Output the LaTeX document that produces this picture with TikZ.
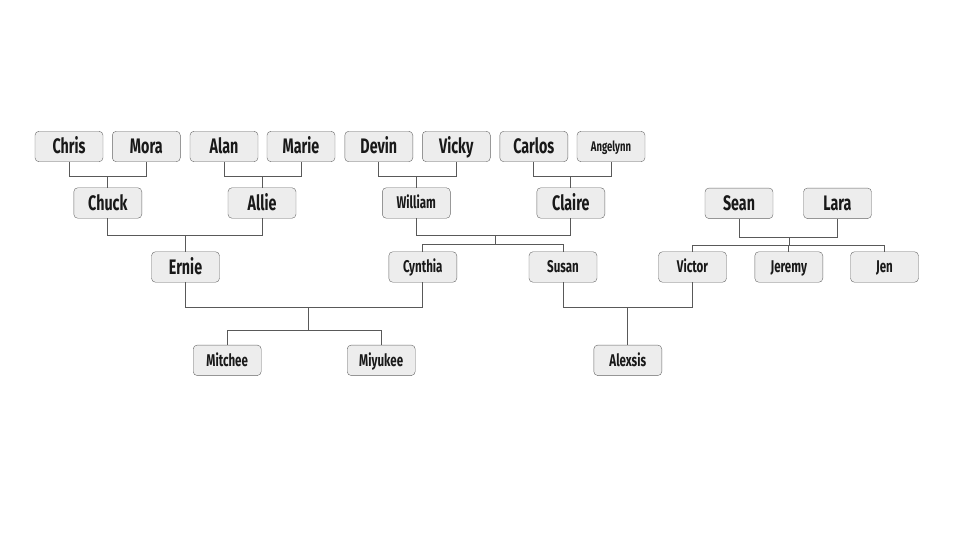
\documentclass[tikz,border=0pt]{standalone}
\usepackage{fontspec}
\setmainfont{Fira Sans}[FakeStretch=0.68]
\begin{document}
\begin{tikzpicture}[x=1pt,y=-1pt,
  person/.style={draw=black!60, fill=black!7, rounded corners=4pt,
    minimum width=68pt, minimum height=30.5pt, inner sep=0pt, text=black!90,
    text height=14.5pt, text depth=0pt,
    font=\bfseries\fontsize{21}{21}\selectfont},
  smallname/.style={font=\bfseries\fontsize{17}{17}\selectfont, text height=11.7pt},
  tinyname/.style={font=\bfseries\fontsize{14}{14}\selectfont, text height=9.6pt},
  link/.style={draw=black!65, line width=0.9pt}]
\useasboundingbox (0,0) rectangle (954,539);
% generation 0
\node[person] (chris) at (69,146.5) {Chris};
\node[person] (mora) at (146.3,146.5) {Mora};
\node[person] (alan) at (224,146.5) {Alan};
\node[person] (marie) at (301,146.5) {Marie};
\node[person] (devin) at (378.8,146.5) {Devin};
\node[person] (vicky) at (456.3,146.5) {Vicky};
\node[person] (carlos) at (533.8,146.5) {Carlos};
\node[person,tinyname] (angelynn) at (611,146.5) {Angelynn};
% generation 1
\node[person] (chuck) at (107.8,203) {Chuck};
\node[person] (allie) at (262,203) {Allie};
\node[person,smallname] (william) at (416.3,203) {William};
\node[person] (claire) at (570.8,203) {Claire};
\node[person] (sean) at (739,203.3) {Sean};
\node[person] (lara) at (837.5,203.3) {Lara};
% generation 2
\node[person] (ernie) at (185.5,267) {Ernie};
\node[person,smallname] (cynthia) at (422.8,267) {Cynthia};
\node[person,smallname] (susan) at (563,267) {Susan};
\node[person,smallname] (victor) at (692.5,267) {Victor};
\node[person,smallname] (jeremy) at (788.8,267) {Jeremy};
\node[person,smallname] (jen) at (884.5,267) {Jen};
% generation 3
\node[person,smallname] (mitchee) at (227.2,360.3) {Mitchee};
\node[person,smallname] (miyukee) at (381.2,360.3) {Miyukee};
\node[person,smallname] (alexsis) at (627.8,360.3) {Alexsis};
% junction levels
\coordinate (g1) at (0,176.7);
\coordinate (g2) at (0,235);
\coordinate (g2b) at (0,244.3);
\coordinate (g2s) at (0,237.3);
\coordinate (g2sb) at (0,245);
\coordinate (g3) at (0,307.7);
\coordinate (g3b) at (0,330.7);
\coordinate (x495) at (495.7,0);
\coordinate (x789) at (789,0);
\coordinate (x308) at (308.3,0);
% couples -> children (gen 0 -> gen 1)
\draw[link] (chris.south) |- (g1 -| mora.south) -- (mora.south);
\draw[link] (chuck.north) -- (chuck.north |- g1);
\draw[link] (alan.south) |- (g1 -| marie.south) -- (marie.south);
\draw[link] (allie.north) -- (allie.north |- g1);
\draw[link] (devin.south) |- (g1 -| vicky.south) -- (vicky.south);
\draw[link] (william.north) -- (william.north |- g1);
\draw[link] (carlos.south) |- (g1 -| angelynn.south) -- (angelynn.south);
\draw[link] (claire.north) -- (claire.north |- g1);
% gen 1 -> gen 2
\draw[link] (chuck.south) |- (g2 -| allie.south) -- (allie.south);
\draw[link] (ernie.north) -- (ernie.north |- g2);
\draw[link] (william.south) |- (g2 -| claire.south) -- (claire.south);
\draw[link] (x495 |- g2) -- (x495 |- g2b);
\draw[link] (cynthia.north) |- (g2b -| susan.north) -- (susan.north);
\draw[link] (sean.south) |- (g2s -| lara.south) -- (lara.south);
\draw[link] (x789 |- g2s) -- (x789 |- g2sb);
\draw[link] (victor.north) |- (g2sb -| jen.north) -- (jen.north);
\draw[link] (jeremy.north) -- (jeremy.north |- g2sb);
% gen 2 -> gen 3
\draw[link] (ernie.south) |- (g3 -| cynthia.south) -- (cynthia.south);
\draw[link] (x308 |- g3) -- (x308 |- g3b);
\draw[link] (mitchee.north) |- (g3b -| miyukee.north) -- (miyukee.north);
\draw[link] (susan.south) |- (g3 -| victor.south) -- (victor.south);
\draw[link] (alexsis.north) -- (alexsis.north |- g3);
\end{tikzpicture}
\end{document}
